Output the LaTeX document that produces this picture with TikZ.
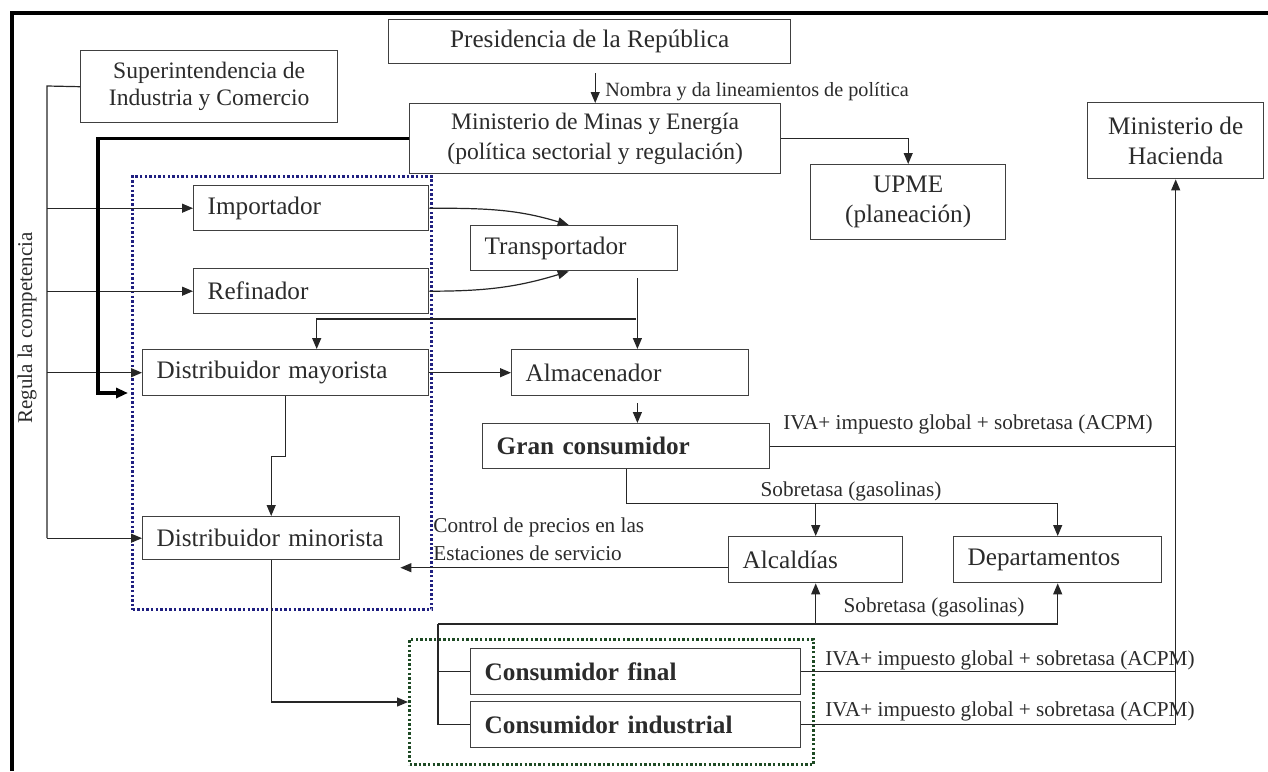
\documentclass[tikz,border=0pt]{standalone}
\usepackage{fontspec}
\setmainfont{Liberation Serif}
\usetikzlibrary{arrows.meta}

\definecolor{boxc}{HTML}{404040}
\definecolor{txtc}{HTML}{2B2B2B}
\definecolor{bluedot}{HTML}{1F1F80}
\definecolor{greendot}{HTML}{1E4A24}

\tikzset{
  box/.style={draw=boxc, line width=0.7pt, anchor=north west, text=txtc, inner sep=0pt,
    align=center, font=\fontsize{12.6}{15}\selectfont},
  lbox/.style={box, inner xsep=7pt, align=left},
  strong/.style={font=\fontsize{12.6}{15}\selectfont\bfseries},
  lbl/.style={text=txtc, inner sep=0pt, font=\fontsize{10.6}{14}\selectfont},
  ln/.style={draw=black!85, line width=0.6pt},
  arr/.style={ln, -{Triangle[length=5.5pt,width=4.5pt]}},
  thk/.style={draw=black, line width=1.7pt, -{Triangle[length=6pt,width=5pt]}},
  dotbox/.style={anchor=north west, line width=1.5pt, dash pattern=on 1.2pt off 1.1pt, inner sep=0pt},
}

\begin{document}
\begin{tikzpicture}[x=0.5pt,y=-0.5pt]
\useasboundingbox (0,0) rectangle (1268,771);
\draw[line width=1.6pt] (12,771) -- (12,13) -- (1268,13);

\node[dotbox, draw=bluedot, minimum width=149.5pt, minimum height=216.5pt] (blu) at (131,175) {};
\node[dotbox, draw=greendot, minimum width=202pt, minimum height=62.5pt] (grn) at (408,638) {};

\node[box, minimum width=201pt, minimum height=22pt] (pres) at (388,19) {Presidencia de la República};
\node[box, minimum width=128.5pt, minimum height=36pt, font=\fontsize{11.8}{13.5}\selectfont] (sic) at (80,50) {Superintendencia de\\Industria y Comercio};
\node[box, minimum width=185.5pt, minimum height=35pt, font=\fontsize{11.8}{15}\selectfont] (mme) at (409,103) {Ministerio de Minas y Energía\\(política sectorial y regulación)};
\node[box, minimum width=97.5pt, minimum height=37.5pt] (upme) at (810,164) {UPME\\(planeación)};
\node[box, minimum width=88pt, minimum height=38pt] (hac) at (1087,102) {Ministerio de\\Hacienda};

\node[lbox, text width=103.5pt, minimum height=22.5pt] (imp) at (193,185) {Importador};
\node[lbox, text width=103.5pt, minimum height=22.5pt] (ref) at (193,268) {Refinador};
\node[lbox, text width=89.5pt, minimum height=22.5pt] (trans) at (470,225) {Transportador};
\node[lbox, text width=129pt, minimum height=23pt] (dmay) at (142,349) {Distribuidor mayorista};
\node[lbox, text width=104.5pt, minimum height=23pt] (alm) at (511,349) {Almacenador};
\node[lbox, strong, text width=129.5pt, minimum height=22.5pt] (gran) at (482,423) {Gran consumidor};
\node[lbox, text width=114.5pt, minimum height=21.5pt] (dmin) at (142,516) {Distribuidor minorista};
\node[lbox, text width=73pt, minimum height=23pt] (alc) at (728,536) {Alcaldías};
\node[lbox, text width=90pt, minimum height=23pt] (dep) at (953,536) {Departamentos};
\node[lbox, strong, text width=151pt, minimum height=23pt] (cfin) at (470,648) {Consumidor final};
\node[lbox, strong, text width=151pt, minimum height=23pt] (cind) at (470,701) {Consumidor industrial};

% arriba
\draw[arr] (pres.south -| mme.north) ++(0,9) -- (mme.north);
\node[lbl, anchor=west, font=\fontsize{10.1}{12}\selectfont] (nombra) at (605,92) {Nombra y da lineamientos de política};
\draw[arr] (mme.east) -| (upme.north);

% regula la competencia
\coordinate (rtop) at (47,86);
\draw[ln] (sic.west) -- (rtop) -- (rtop |- dmin.west);
\draw[arr] (rtop |- imp.west) -- (imp.west);
\draw[arr] (rtop |- ref.west) -- (ref.west);
\draw[arr] (rtop |- dmay.west) -- (dmay.west);
\draw[arr] (rtop |- dmin.west) -- (dmin.west);
\node[lbl, rotate=90, font=\fontsize{10.5}{12}\selectfont] (regula) at (27,328) {Regula la competencia};

\coordinate (mmc) at (98,393);
\draw[thk, shorten >=1.5pt] (mme.west) -| (mmc) -- (blu.west |- mmc);

% cadena
\draw[arr] (imp.east) to[out=0,in=163] ([xshift=-2.75pt]trans.north);
\draw[arr] (ref.east) to[out=0,in=197] ([xshift=-2.75pt]trans.south);
\coordinate (tdrop) at ([xshift=-20.5pt,yshift=-3.5pt]trans.south east);
\coordinate (split) at (636,319);
\draw[arr] (tdrop) -- (tdrop |- alm.north);
\draw[arr] (split) -| ([xshift=15.5pt]dmay.north);
\draw[arr] (dmay.east) -- (alm.west);
\draw[arr] (alm.south -| tdrop) ++(0,7) -- (gran.north -| tdrop);
\draw[arr] (dmay.south) -- ++(0,60) -| (dmin.north);

% impuestos
\draw[arr] (gran.east) -| (hac.south);
\node[lbl] (iva1) at (968,424) {IVA+ impuesto global + sobretasa (ACPM)};
\draw[arr] (gran.south) -- ++(0,34) coordinate (gline) -| (dep.north);
\draw[arr] (gline -| alc.north) -- (alc.north);
\node[lbl] (sob1) at (851,491) {Sobretasa (gasolinas)};

\coordinate (ctrl) at ([yshift=-4pt]alc.west);
\draw[arr] (ctrl) -- (ctrl -| dmin.east);
\node[lbl, anchor=west, align=left] (ctrltxt) at (433,539) {Control de precios en las\\Estaciones de servicio};

\draw[arr] (dmin.south) |- (grn.west);

\coordinate (bk) at (438,624);
\draw[ln] (bk) |- (cind.west);
\draw[ln] (bk |- cfin.west) -- (cfin.west);
\draw[arr] (bk) -| (dep.south);
\draw[arr] (bk -| alc.south) -- (alc.south);
\node[lbl] (sob2) at (934,607) {Sobretasa (gasolinas)};

\draw[ln] (cfin.east) -- (cfin.east -| hac.south);
\draw[ln] (cind.east) -| (gran.east -| hac.south);
\node[lbl] (iva2) at (1010,660) {IVA+ impuesto global + sobretasa (ACPM)};
\node[lbl] (iva3) at (1010,711) {IVA+ impuesto global + sobretasa (ACPM)};
\end{tikzpicture}
\end{document}
